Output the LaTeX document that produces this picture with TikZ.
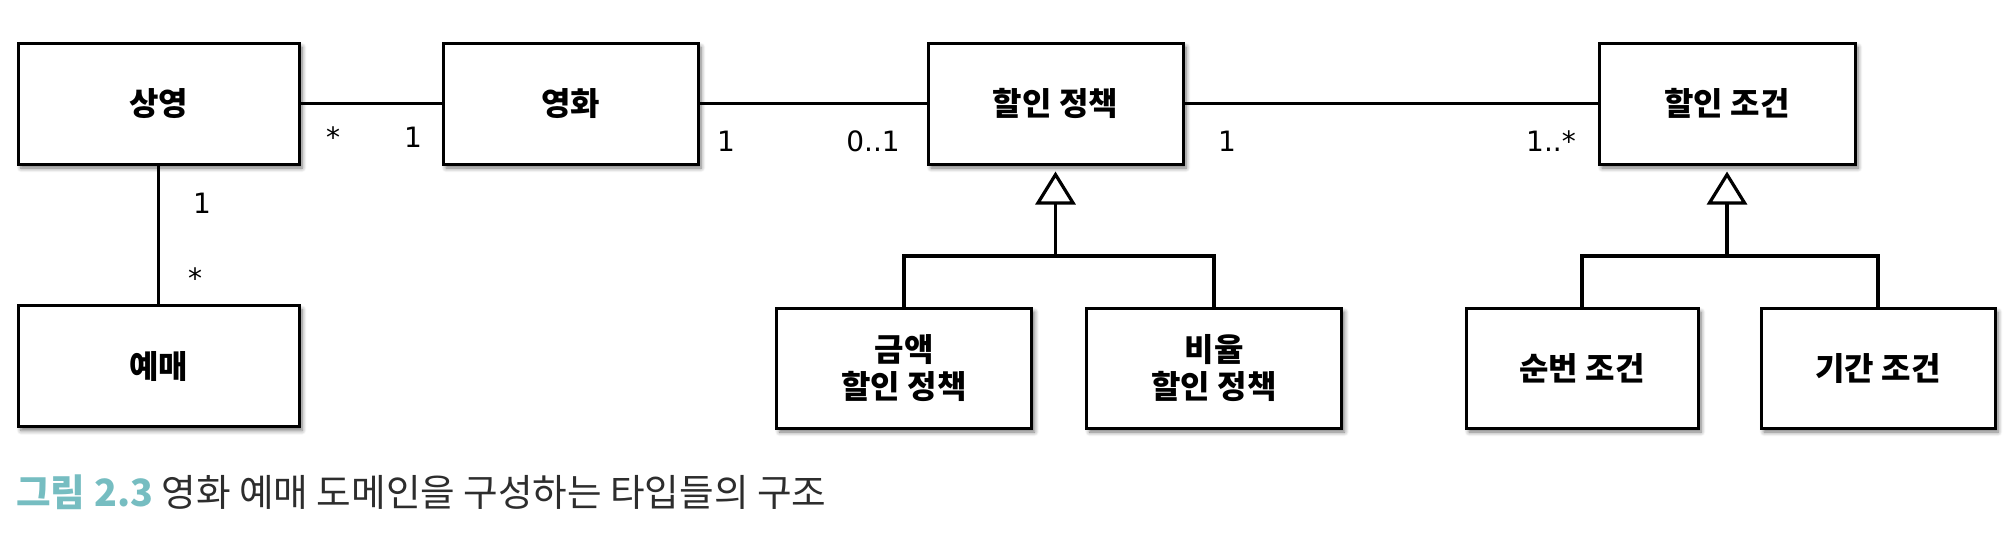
\documentclass[tikz,border=0pt]{standalone}
\usepackage{fontspec}
\setmainfont{Noto Sans CJK KR}
\newfontfamily\multfont{DejaVu Sans}
\usetikzlibrary{arrows.meta,shadows.blur}
\definecolor{capteal}{RGB}{118,189,193}
\definecolor{captext}{RGB}{45,45,45}

\begin{document}
\begin{tikzpicture}[x=0.5pt,y=-0.5pt,
    box/.style={draw,line width=1.5pt,fill=white,minimum width=127.5pt,minimum height=60.5pt,
      align=center,inner sep=0pt,font=\fontsize{16}{18.5}\selectfont\bfseries,
      blur shadow={shadow xshift=1.5pt,shadow yshift=-2pt,shadow blur steps=6,shadow opacity=55}},
    link/.style={line width=1.6pt},
    inherit/.style={line width=1.6pt,-{Triangle[open,length=16.5pt,width=20pt,line width=1.6pt]},shorten >=3pt},
    mult/.style={font=\fontsize{14}{15}\multfont}]
  \useasboundingbox (0,0) rectangle (2016,538);

  \node[box,minimum width=140.5pt] (screening) at (158.5,103.5) {상영};
  \node[box] (movie) at (570.5,103.5) {영화};
  \node[box] (policy) at (1055.5,103.5) {할인 정책};
  \node[box,minimum width=128pt] (condition) at (1727,103.5) {할인 조건};
  \node[box,minimum width=140.5pt] (reservation) at (158.5,366) {예매};
  \node[box,minimum height=60pt] (amountpolicy) at (904,368) {금액\\할인 정책};
  \node[box,minimum height=60pt] (percentpolicy) at (1214,368) {비율\\할인 정책};
  \node[box,minimum width=116pt,minimum height=60pt] (sequencecond) at (1582,368) {순번 조건};
  \node[box,minimum width=117pt,minimum height=60pt] (periodcond) at (1878,368) {기간 조건};

  \draw[link] (screening) -- (movie);
  \draw[link] (movie) -- (policy);
  \draw[link] (policy) -- (condition);
  \draw[link] (screening) -- (reservation);

  \node[mult] at (333,137) {*};
  \node[mult] at (413,137) {1};
  \node[mult] at (726,141) {1};
  \node[mult] at (873,141) {0..1};
  \node[mult] at (1227,141) {1};
  \node[mult] at (1551,141) {1..*};
  \node[mult] at (202,203) {1};
  \node[mult] at (195,278) {*};

  \coordinate (policyjoin) at (1055.5,256);
  \coordinate (conditionjoin) at (1727,256);
  \draw[link] (amountpolicy.north) |- (policyjoin) -| (percentpolicy.north);
  \draw[inherit] (policyjoin) -- (policy.south);
  \draw[link] (sequencecond.north) |- (conditionjoin) -| (periodcond.north);
  \draw[inherit] (conditionjoin) -- (condition.south);

  \node[anchor=west,inner sep=0pt,font=\fontsize{18.8}{22}\selectfont,text=captext] (caption) at (16,492)
    {{\bfseries\color{capteal}그림 2.3} 영화 예매 도메인을 구성하는 타입들의 구조};
\end{tikzpicture}
\end{document}
